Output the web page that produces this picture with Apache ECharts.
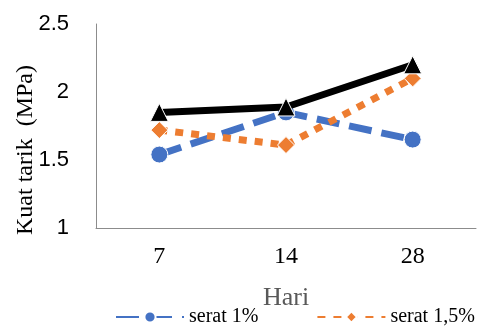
<!DOCTYPE html>
<html><head><meta charset="utf-8">
<script src="https://cdn.jsdelivr.net/npm/echarts@6/dist/echarts.min.js"></script>
<style>html,body{margin:0;padding:0;background:#fff}#c{width:483px;height:327px}</style>
</head><body><div id="c"></div>
<script>
const categories = ['7', '14', '28'];
const serat1 = [1.54, 1.85, 1.65];
const serat15 = [1.72, 1.61, 2.10];
const serat2 = [1.85, 1.89, 2.20];
const yTicks = { min: 1, max: 2.5, interval: 0.5 };

const chart = echarts.init(document.getElementById('c'));
chart.setOption({
  animation: false,
  grid: { left: 96, right: 7, top: 24, bottom: 99, containLabel: false, outerBoundsMode: 'none' },
  xAxis: {
    type: 'category', data: categories, boundaryGap: true,
    name: 'Hari', nameLocation: 'middle', nameGap: 57,
    nameTextStyle: { fontFamily: 'Liberation Serif', fontSize: 26, color: '#595959' },
    axisLine: { lineStyle: { color: '#8c8c8c', width: 1 } },
    axisTick: { show: false },
    axisLabel: { fontFamily: 'Liberation Serif', fontSize: 24, color: '#000', margin: 17 }
  },
  yAxis: {
    type: 'value', min: yTicks.min, max: yTicks.max, interval: yTicks.interval,
    name: 'Kuat tarik  (MPa)', nameLocation: 'middle', nameGap: 58, nameRotate: 90,
    nameMoveOverlap: false,
    nameTextStyle: { fontFamily: 'Liberation Serif', fontSize: 24, color: '#000', padding: [0, 48, 0, 0] },
    axisLine: { show: true, lineStyle: { color: '#8c8c8c', width: 1 } },
    axisTick: { show: false },
    splitLine: { show: false },
    axisLabel: { fontFamily: 'Liberation Sans', fontSize: 22, color: '#000', margin: 27 }
  },
  legend: {
    data: ['serat 1%', 'serat 1,5%'], top: 302, left: 110, itemGap: 58,
    itemWidth: 68, itemHeight: 14,
    textStyle: { fontFamily: 'Liberation Serif', fontSize: 20, color: '#000' }
  },
  series: [
    { name: 'serat 1%', type: 'line', data: serat1, z: 2,
      lineStyle: { color: '#4472c4', width: 7, type: [23, 10], cap: 'butt' },
      itemStyle: { color: '#4472c4', borderColor: '#fff', borderWidth: 1 },
      symbol: 'circle', symbolSize: 17 },
    { name: 'serat 1,5%', type: 'line', data: serat15, z: 3,
      lineStyle: { color: '#ed7d31', width: 7, type: [8, 8], cap: 'butt' },
      itemStyle: { color: '#ed7d31', borderColor: '#fff', borderWidth: 1 },
      symbol: 'diamond', symbolSize: 17 },
    { name: 'serat 2%', type: 'line', data: serat2, z: 4,
      lineStyle: { color: '#000', width: 7 },
      itemStyle: { color: '#000', borderColor: '#fff', borderWidth: 1 },
      symbol: 'triangle', symbolSize: 18 }
  ]
});
</script></body></html>
